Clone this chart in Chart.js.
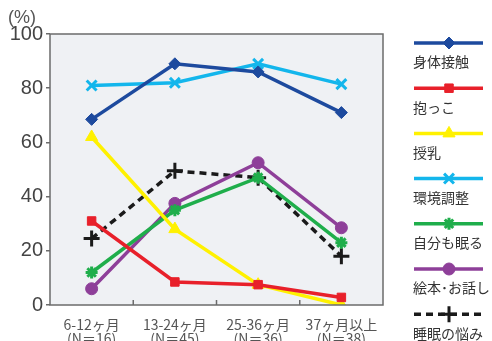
<!DOCTYPE html>
<html>
<head>
<meta charset="utf-8">
<script src="https://cdn.jsdelivr.net/npm/chart.js@4"></script>
<style>
html,body{margin:0;padding:0;background:#fff;}
#wrap{width:492px;height:341px;position:relative;}
</style>
</head>
<body>
<div id="wrap"><canvas id="sleepChart" width="492" height="341"></canvas></div>
<script>
const ageLabels = [['6-12ヶ月','(N＝16)'],['13-24ヶ月','(N＝45)'],['25-36ヶ月','(N＝36)'],['37ヶ月以上','(N＝38)']];
const seriesNames = ['身体接触','抱っこ','授乳','環境調整','自分も眠る','絵本･お話し','睡眠の悩み'];
const bodyContact = [68.5, 89, 86, 71];
const holding = [31, 8.5, 7.5, 2.8];
const feeding = [62, 28, 7.5, 0];
const environment = [81, 82, 89, 81.5];
const sleepTogether = [12, 35, 47, 23];
const picturebook = [6, 37.5, 52.5, 28.5];
const sleepWorry = [24.5, 49.5, 47, 18];
const yTicks = [0, 20, 40, 60, 80, 100];

const colors = ['#1d4a9e','#e8202a','#fff100','#13b6ec','#1fae4b','#8e3f99','#1a1a1a'];
const styles = ['rectRot','rect','triangle','crossRot','star','circle','cross'];
const radii = [6,6,7,7,6,6,8];
const allData = [bodyContact, holding, feeding, environment, sleepTogether, picturebook, sleepWorry];

const datasets = allData.map((d,i)=>({
  label: seriesNames[i],
  data: d,
  borderColor: colors[i],
  backgroundColor: colors[i],
  pointBorderColor: colors[i],
  pointBackgroundColor: colors[i],
  pointStyle: styles[i],
  pointRadius: radii[i],
  pointBorderWidth: (styles[i]=='crossRot'||styles[i]=='star'||styles[i]=='cross') ? 3 : 1,
  borderWidth: 3.5,
  borderDash: i==6 ? [7,5] : [],
  tension: 0,
  fill: false
}));

// plot box background + border + inner ticks on x axis
const frame = {
  id:'frame',
  beforeDatasetsDraw(chart){
    const {ctx, chartArea:a} = chart;
    ctx.save();
    ctx.fillStyle = '#eff1f4';
    ctx.fillRect(a.left, a.top, a.right-a.left, a.bottom-a.top);
    ctx.restore();
  },
  afterDatasetsDraw(chart){
    const {ctx, chartArea:a, scales} = chart;
    ctx.save();
    ctx.strokeStyle = '#6b6b6b';
    ctx.lineWidth = 1.5;
    ctx.strokeRect(a.left, a.top, a.right-a.left, a.bottom-a.top);
    const x = scales.x;
    for(let i=0;i<ageLabels.length-1;i++){
      const px = (x.getPixelForValue(i)+x.getPixelForValue(i+1))/2;
      ctx.beginPath();
      ctx.moveTo(px, a.bottom);
      ctx.lineTo(px, a.bottom-5);
      ctx.stroke();
    }
    ctx.fillStyle = '#555';
    ctx.font = '18px "Liberation Sans", Arial, sans-serif';
    ctx.textAlign = 'left';
    ctx.textBaseline = 'middle';
    ctx.fillText('(%)', 8, 18);
    ctx.restore();
  }
};

// legend: line sample with marker, label underneath
const sideLegend = {
  id:'sideLegend',
  afterDraw(chart){
    const ctx = chart.ctx;
    ctx.save();
    chart.data.datasets.forEach((ds,i)=>{
      const y = 43 + i*45.2;
      ctx.strokeStyle = ds.borderColor;
      ctx.lineWidth = 3.5;
      ctx.setLineDash(ds.borderDash);
      ctx.beginPath();
      ctx.moveTo(414, y);
      ctx.lineTo(483, y);
      ctx.stroke();
      ctx.setLineDash([]);
      ctx.fillStyle = ds.pointBackgroundColor;
      ctx.lineWidth = ds.pointBorderWidth;
      Chart.helpers.drawPoint(ctx, {pointStyle: ds.pointStyle, radius: ds.pointRadius, borderWidth: ds.pointBorderWidth}, 449, y);
      ctx.fillStyle = '#333';
      ctx.font = '14px "Noto Sans CJK JP", sans-serif';
      ctx.textAlign = 'left';
      ctx.textBaseline = 'middle';
      ctx.fillText(ds.label, 413, y + 19);
    });
    ctx.restore();
  }
};

new Chart(document.getElementById('sleepChart'), {
  type:'line',
  data:{ labels: ageLabels, datasets: datasets },
  options:{
    responsive:false,
    animation:false,
    layout:{ padding:{ top:34, right:109, left:0, bottom:0 } },
    plugins:{ legend:{display:false}, tooltip:{enabled:false} },
    scales:{
      x:{
        offset:true,
        grid:{ display:false },
        border:{ display:false },
        ticks:{ color:'#555', font:{ size:14, family:'"Noto Sans CJK JP", sans-serif', lineHeight:1.0 }, padding:5, maxRotation:0 },
        afterFit(s){ s.height = 36; }
      },
      y:{
        min:0, max:100,
        afterBuildTicks(s){ s.ticks = yTicks.map(v=>({value:v})); },
        grid:{ drawOnChartArea:false, tickLength:4, color:'#6b6b6b', lineWidth:1.5 },
        border:{ display:false },
        ticks:{ color:'#444', font:{ size:20, family:'"Liberation Sans", Arial, sans-serif' }, padding:3 },
        afterFit(s){ s.width = 50; }
      }
    }
  },
  plugins:[frame, sideLegend]
});
</script>
</body>
</html>
